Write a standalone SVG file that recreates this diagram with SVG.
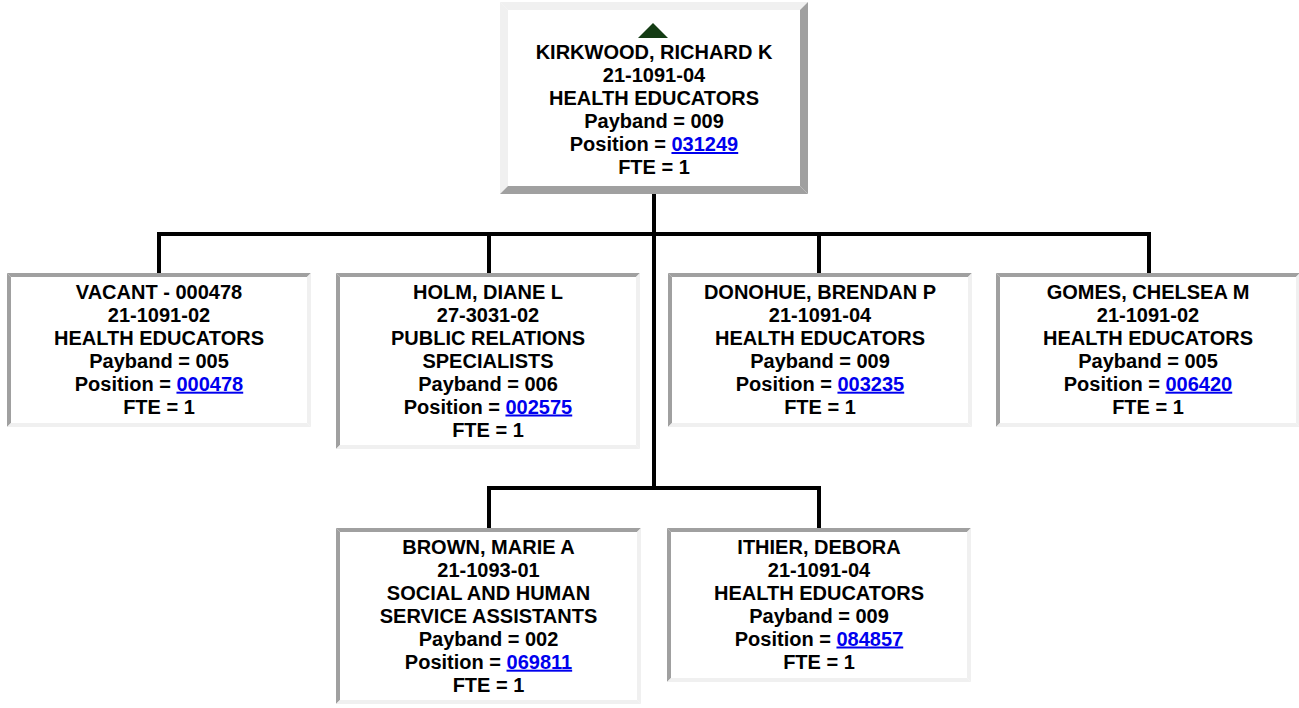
<svg xmlns="http://www.w3.org/2000/svg" width="1299" height="708" viewBox="0 0 1299 708">
<style>
  .dk { fill: #a0a0a0; }
  .lt { fill: #f0f0f0; }
  .bg { fill: #ffffff; }
  .t { font-family: "Liberation Sans", Arial, sans-serif; font-weight: bold; font-size: 20px; fill: #000000; text-anchor: middle; }
  .lk { fill: #0000ee; text-decoration: underline; }
  .conn { fill: none; stroke: #000000; stroke-width: 4; stroke-linecap: square; stroke-linejoin: miter; }
</style>
<rect x="0" y="0" width="1299" height="708" fill="#ffffff"/>

<g id="connectors">
  <path class="conn" d="M654,196 V488"/>
  <path class="conn" d="M159,271 V234 H1149 V271"/>
  <path class="conn" d="M489,234 V271"/>
  <path class="conn" d="M819,234 V271"/>
  <path class="conn" d="M489,526 V488 H819 V526"/>
</g>

<g id="node-kirkwood">
  <rect class="bg" x="500" y="2" width="308" height="192"/>
  <polygon class="lt" points="500,2 808,2 800,10 508,10"/>
  <polygon class="lt" points="500,2 508,10 508,186 500,194"/>
  <polygon class="dk" points="500,194 508,186 800,186 808,194"/>
  <polygon class="dk" points="808,2 808,194 800,186 800,10"/>
  <polygon points="653,23 668,38 638,38" fill="#143c14"/>
  <text class="t" x="654" y="59">KIRKWOOD, RICHARD K</text>
  <text class="t" x="654" y="82">21-1091-04</text>
  <text class="t" x="654" y="105">HEALTH EDUCATORS</text>
  <text class="t" x="654" y="128">Payband = 009</text>
  <text class="t" x="654" y="151">Position = <tspan class="lk">031249</tspan></text>
  <text class="t" x="654" y="174">FTE = 1</text>
</g>

<g id="node-vacant">
  <rect class="bg" x="7" y="273" width="304" height="154"/>
  <polygon class="dk" points="7,273 311,273 307,277 11,277"/>
  <polygon class="dk" points="7,273 11,277 11,423 7,427"/>
  <polygon class="lt" points="7,427 11,423 307,423 311,427"/>
  <polygon class="lt" points="311,273 311,427 307,423 307,277"/>
  <text class="t" x="159" y="298.7">VACANT - 000478</text>
  <text class="t" x="159" y="321.7">21-1091-02</text>
  <text class="t" x="159" y="344.7">HEALTH EDUCATORS</text>
  <text class="t" x="159" y="367.7">Payband = 005</text>
  <text class="t" x="159" y="390.7">Position = <tspan class="lk">000478</tspan></text>
  <text class="t" x="159" y="413.7">FTE = 1</text>
</g>

<g id="node-holm">
  <rect class="bg" x="336" y="273" width="304" height="176"/>
  <polygon class="dk" points="336,273 640,273 636,277 340,277"/>
  <polygon class="dk" points="336,273 340,277 340,445 336,449"/>
  <polygon class="lt" points="336,449 340,445 636,445 640,449"/>
  <polygon class="lt" points="640,273 640,449 636,445 636,277"/>
  <text class="t" x="488" y="298.5">HOLM, DIANE L</text>
  <text class="t" x="488" y="321.5">27-3031-02</text>
  <text class="t" x="488" y="344.5">PUBLIC RELATIONS</text>
  <text class="t" x="488" y="367.5">SPECIALISTS</text>
  <text class="t" x="488" y="390.5">Payband = 006</text>
  <text class="t" x="488" y="413.5">Position = <tspan class="lk">002575</tspan></text>
  <text class="t" x="488" y="436.5">FTE = 1</text>
</g>

<g id="node-donohue">
  <rect class="bg" x="668" y="273" width="304" height="154"/>
  <polygon class="dk" points="668,273 972,273 968,277 672,277"/>
  <polygon class="dk" points="668,273 672,277 672,423 668,427"/>
  <polygon class="lt" points="668,427 672,423 968,423 972,427"/>
  <polygon class="lt" points="972,273 972,427 968,423 968,277"/>
  <text class="t" x="820" y="298.7">DONOHUE, BRENDAN P</text>
  <text class="t" x="820" y="321.7">21-1091-04</text>
  <text class="t" x="820" y="344.7">HEALTH EDUCATORS</text>
  <text class="t" x="820" y="367.7">Payband = 009</text>
  <text class="t" x="820" y="390.7">Position = <tspan class="lk">003235</tspan></text>
  <text class="t" x="820" y="413.7">FTE = 1</text>
</g>

<g id="node-gomes">
  <rect class="bg" x="996" y="273" width="304" height="154"/>
  <polygon class="dk" points="996,273 1300,273 1296,277 1000,277"/>
  <polygon class="dk" points="996,273 1000,277 1000,423 996,427"/>
  <polygon class="lt" points="996,427 1000,423 1296,423 1300,427"/>
  <polygon class="lt" points="1300,273 1300,427 1296,423 1296,277"/>
  <text class="t" x="1148" y="298.7">GOMES, CHELSEA M</text>
  <text class="t" x="1148" y="321.7">21-1091-02</text>
  <text class="t" x="1148" y="344.7">HEALTH EDUCATORS</text>
  <text class="t" x="1148" y="367.7">Payband = 005</text>
  <text class="t" x="1148" y="390.7">Position = <tspan class="lk">006420</tspan></text>
  <text class="t" x="1148" y="413.7">FTE = 1</text>
</g>

<g id="node-brown">
  <rect class="bg" x="336" y="528" width="305" height="176"/>
  <polygon class="dk" points="336,528 641,528 637,532 340,532"/>
  <polygon class="dk" points="336,528 340,532 340,700 336,704"/>
  <polygon class="lt" points="336,704 340,700 637,700 641,704"/>
  <polygon class="lt" points="641,528 641,704 637,700 637,532"/>
  <text class="t" x="488.5" y="553.7">BROWN, MARIE A</text>
  <text class="t" x="488.5" y="576.7">21-1093-01</text>
  <text class="t" x="488.5" y="599.7">SOCIAL AND HUMAN</text>
  <text class="t" x="488.5" y="622.7">SERVICE ASSISTANTS</text>
  <text class="t" x="488.5" y="645.7">Payband = 002</text>
  <text class="t" x="488.5" y="668.7">Position = <tspan class="lk">069811</tspan></text>
  <text class="t" x="488.5" y="691.7">FTE = 1</text>
</g>

<g id="node-ithier">
  <rect class="bg" x="667" y="528" width="304" height="154"/>
  <polygon class="dk" points="667,528 971,528 967,532 671,532"/>
  <polygon class="dk" points="667,528 671,532 671,678 667,682"/>
  <polygon class="lt" points="667,682 671,678 967,678 971,682"/>
  <polygon class="lt" points="971,528 971,682 967,678 967,532"/>
  <text class="t" x="819" y="553.5">ITHIER, DEBORA</text>
  <text class="t" x="819" y="576.5">21-1091-04</text>
  <text class="t" x="819" y="599.5">HEALTH EDUCATORS</text>
  <text class="t" x="819" y="622.5">Payband = 009</text>
  <text class="t" x="819" y="645.5">Position = <tspan class="lk">084857</tspan></text>
  <text class="t" x="819" y="668.5">FTE = 1</text>
</g>
</svg>
